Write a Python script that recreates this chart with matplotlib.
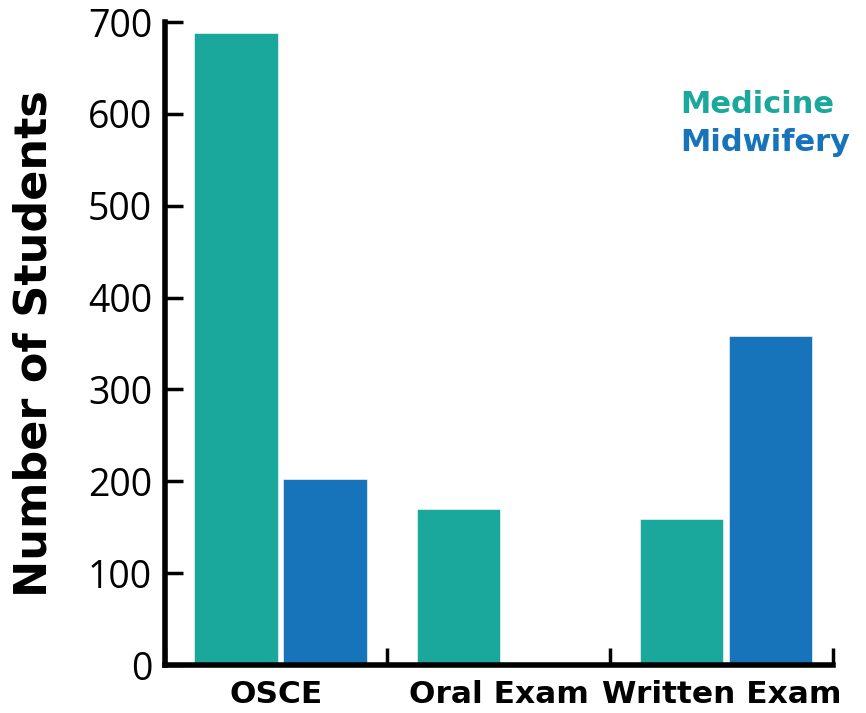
import matplotlib.pyplot as plt
import numpy as np

categories = ["OSCE", "Oral Exam", "Written Exam"]
medicine = [688, 170, 159]
midwifery = [202, 0, 358]
series_names = ["Medicine", "Midwifery"]
colors = ["#1aa89c", "#1774ba"]
yticks = [0, 100, 200, 300, 400, 500, 600, 700]

fig = plt.figure(figsize=(8.66, 7.13), dpi=100)
ax = fig.add_axes([0.19, 0.0673, 0.772, 0.9017])

x = np.arange(len(categories))
w = 0.375
ax.bar(x - 0.18, medicine, w, color=colors[0], edgecolor="white", linewidth=0.4)
ax.bar(x + 0.22, midwifery, w, color=colors[1], edgecolor="white", linewidth=0.4)

ax.set_xlim(-0.5, 2.5)
ax.set_ylim(0, 700)

for s in ["top", "right"]:
    ax.spines[s].set_visible(False)
for s in ["left", "bottom"]:
    ax.spines[s].set_linewidth(4)

ax.set_yticks(yticks)
ax.set_yticklabels([str(v) for v in yticks], fontsize=27, family="Open Sans")
ax.tick_params(axis="y", direction="in", length=13, width=2.5, pad=9)

ax.set_xticks(x)
ax.set_xticklabels(categories, fontsize=22.5, fontweight="bold", family="DejaVu Sans")
ax.tick_params(axis="x", which="major", length=0, pad=11)
ax.set_xticks(np.arange(-0.5, 3.0, 1.0), minor=True)
ax.tick_params(axis="x", which="minor", direction="in", length=12, width=2.5)

ax.set_ylabel("Number of Students", fontsize=32, fontweight="bold", labelpad=23)

fig.text(680 / 866, 1 - 113 / 713, series_names[0], color=colors[0],
         fontsize=22, fontweight="bold", va="baseline", ha="left")
fig.text(680 / 866, 1 - 151 / 713, series_names[1], color=colors[1],
         fontsize=22, fontweight="bold", va="baseline", ha="left")

fig.savefig("out.png", dpi=100)
